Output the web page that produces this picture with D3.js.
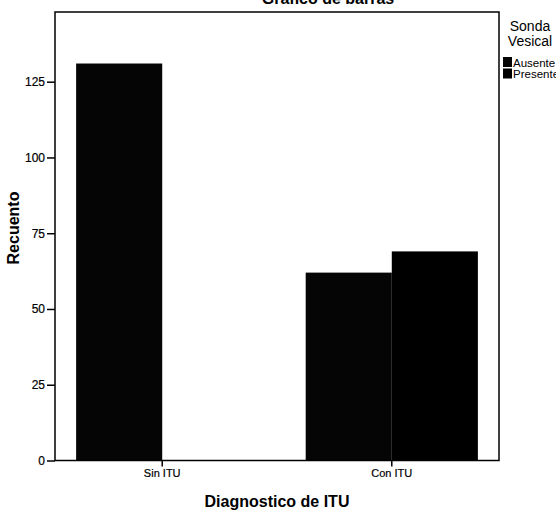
<!DOCTYPE html>
<html>
<head>
<meta charset="utf-8">
<script src="https://cdn.jsdelivr.net/npm/d3@7"></script>
<style>
  body { margin: 0; background: #fff; }
  svg { display: block; font-family: "Liberation Sans", Arial, sans-serif; }
</style>
</head>
<body>
<div id="chart"></div>
<script>
// Data
const categories = ["Sin ITU", "Con ITU"];
const seriesNames = ["Ausente", "Presente"];
const ausente = [131, 62];
const presente = [0, 69];
const yTicks = [0, 25, 50, 75, 100, 125];
const colors = ["#050505", "#000000"];

const W = 556, H = 515;
const plot = { left: 55, right: 499, top: 12, bottom: 460.5 };

const svg = d3.select("#chart").append("svg")
    .attr("width", W)
    .attr("height", H);

// Scales
const x = d3.scaleBand()
    .domain(categories)
    .range([plot.left, plot.right])
    .paddingInner(0.25)
    .paddingOuter(0.092);

const xSub = d3.scaleBand()
    .domain(seriesNames)
    .range([0, x.bandwidth()]);

const y = d3.scaleLinear()
    .domain([0, 148])
    .range([plot.bottom, plot.top]);

const color = d3.scaleOrdinal().domain(seriesNames).range(colors);

// Build rows for grouped bars
const rows = categories.map((c, i) => ({
    cat: c,
    values: [
        { key: "Ausente", value: ausente[i] },
        { key: "Presente", value: presente[i] }
    ]
}));

// Bars
const groups = svg.selectAll(".grp")
    .data(rows)
    .enter().append("g")
    .attr("class", "grp")
    .attr("transform", d => `translate(${x(d.cat)},0)`);

groups.selectAll("rect")
    .data(d => d.values.filter(v => v.value > 0))
    .enter().append("rect")
    .attr("x", d => xSub(d.key))
    .attr("y", d => y(d.value))
    .attr("width", xSub.bandwidth())
    .attr("height", d => y(0) - y(d.value))
    .attr("fill", d => color(d.key));

// Frame
svg.append("rect")
    .attr("x", plot.left)
    .attr("y", plot.top)
    .attr("width", plot.right - plot.left)
    .attr("height", plot.bottom - plot.top)
    .attr("fill", "none")
    .attr("stroke", "#000")
    .attr("stroke-width", 1.5);

// Axes
const yAxis = svg.append("g")
    .attr("transform", `translate(${plot.left},0)`)
    .call(d3.axisLeft(y).tickValues(yTicks).tickSize(8).tickPadding(2));
yAxis.select(".domain").remove();
yAxis.selectAll("line").attr("stroke-width", 1.5);
yAxis.selectAll("text")
    .attr("font-size", "12px")
    .attr("font-family", "Liberation Sans, Arial, sans-serif")
    .attr("fill", "#000")
    .attr("stroke", "#000")
    .attr("stroke-width", 0.2);

const xAxis = svg.append("g")
    .attr("transform", `translate(0,${plot.bottom})`)
    .call(d3.axisBottom(x).tickSize(6).tickPadding(3));
xAxis.select(".domain").remove();
xAxis.selectAll("line").attr("stroke-width", 1.5);
xAxis.selectAll("text")
    .attr("font-size", "11px")
    .attr("font-family", "Liberation Sans, Arial, sans-serif")
    .attr("fill", "#000")
    .attr("stroke", "#000")
    .attr("stroke-width", 0.2);

// Titles
svg.append("text")
    .attr("x", 328)
    .attr("y", 4)
    .attr("text-anchor", "middle")
    .attr("font-size", "16px")
    .attr("font-weight", "bold")
    .text("Grafico de barras");

svg.append("text")
    .attr("x", 277)
    .attr("y", 507)
    .attr("text-anchor", "middle")
    .attr("font-size", "16px")
    .attr("font-weight", "bold")
    .text("Diagnostico de ITU");

svg.append("text")
    .attr("transform", "rotate(-90)")
    .attr("x", -228)
    .attr("y", 19)
    .attr("text-anchor", "middle")
    .attr("font-size", "16px")
    .attr("font-weight", "bold")
    .text("Recuento");

// Legend
svg.append("text")
    .attr("x", 530)
    .attr("y", 31)
    .attr("text-anchor", "middle")
    .attr("font-size", "14px")
    .text("Sonda");
svg.append("text")
    .attr("x", 530)
    .attr("y", 46)
    .attr("text-anchor", "middle")
    .attr("font-size", "14px")
    .text("Vesical");

const legend = svg.selectAll(".legend")
    .data(seriesNames)
    .enter().append("g")
    .attr("class", "legend")
    .attr("transform", (d, i) => `translate(503,${57 + i * 11.5})`);

legend.append("rect")
    .attr("width", 9)
    .attr("height", 10)
    .attr("fill", d => color(d));

legend.append("text")
    .attr("x", 10)
    .attr("y", 9.5)
    .attr("font-size", "11.5px")
    .text(d => d);
</script>
</body>
</html>
